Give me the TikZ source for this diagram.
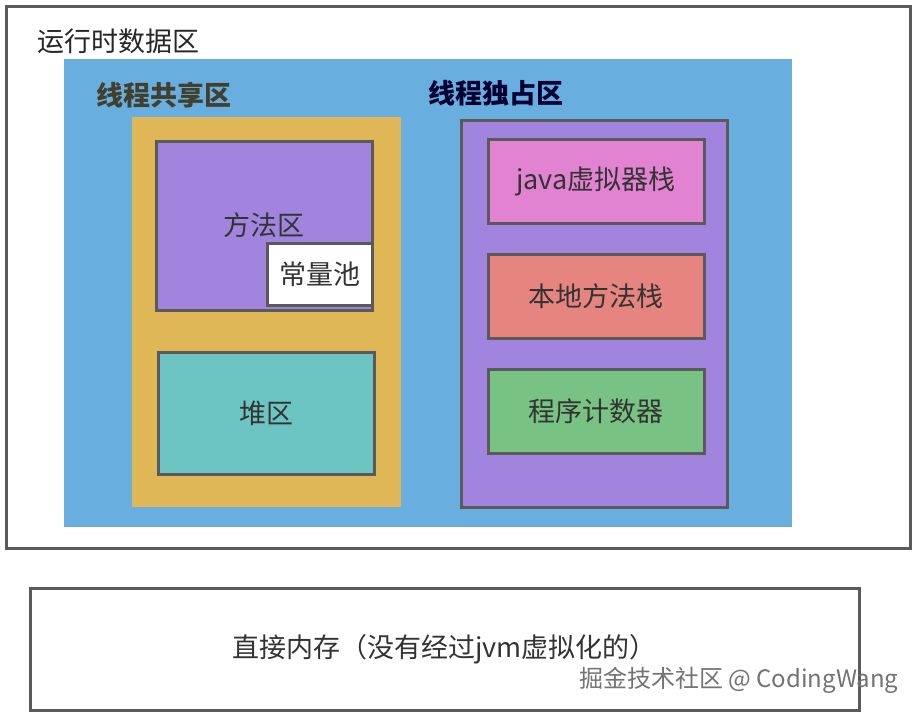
\documentclass[tikz,border=0pt]{standalone}
\usepackage{fontspec}
\setmainfont{Noto Sans CJK SC}
\usepackage{xcolor}
\definecolor{edgegray}{HTML}{5A5A5A}
\definecolor{areablue}{HTML}{68AFE0}
\definecolor{shareyellow}{HTML}{E0B757}
\definecolor{regpurple}{HTML}{A184DE}
\definecolor{heapteal}{HTML}{6CC4C3}
\definecolor{stackpink}{HTML}{E283D1}
\definecolor{nativered}{HTML}{E6857F}
\definecolor{pcgreen}{HTML}{78C383}

\begin{document}
\begin{tikzpicture}[x=1pt,y=-1pt,font=\fontsize{27}{30}\selectfont,
    box/.style={draw=edgegray,line width=3pt,inner sep=0pt,text=black!80},
    title/.style={font=\fontsize{27}{30}\selectfont\bfseries,anchor=west}]
    \useasboundingbox (0,0) rectangle (920,715);
    \node[box,fill=white,minimum width=904pt,minimum height=542pt](rt) at (458,277){};
    \node[anchor=west,text=black!85](rtl) at (34,41){运行时数据区};
    \node[fill=areablue,inner sep=0pt,minimum width=728pt,minimum height=468pt](blue) at (428,293){};
    \node[title,text=black!70!olive](sharel) at (93,95){线程共享区};
    \node[title,text=black!80!blue](ownl) at (425,93){线程独占区};
    \node[fill=shareyellow,inner sep=0pt,minimum width=269pt,minimum height=390pt](share) at (266.5,312){};
    \node[box,fill=regpurple,minimum width=266pt,minimum height=387pt](own) at (594,313.5){};
    % shared part
    \node[box,fill=regpurple,minimum width=216pt,minimum height=169pt](method) at (264,225.5){方法区};
    \node[box,fill=white,minimum width=105pt,minimum height=62pt](pool) at (319.5,274){常量池};
    \node[box,fill=heapteal,minimum width=216pt,minimum height=122pt](heap) at (266,413){堆区};
    % per thread part
    \node[box,fill=stackpink,minimum width=216pt,minimum height=84pt](jvms) at (596,181){java虚拟器栈};
    \node[box,fill=nativered,minimum width=216pt,minimum height=84pt](natives) at (596,296){本地方法栈};
    \node[box,fill=pcgreen,minimum width=216pt,minimum height=84pt](pc) at (596,411){程序计数器};
    % direct memory
    \node[box,fill=white,minimum width=829pt,minimum height=122pt](direct) at (444.5,649){直接内存（没有经过jvm虚拟化的）};
    \node[anchor=east,text=black!55,font=\fontsize{24}{26}\selectfont](mark) at (902,680){掘金技术社区 @ CodingWang};
\end{tikzpicture}
\end{document}
